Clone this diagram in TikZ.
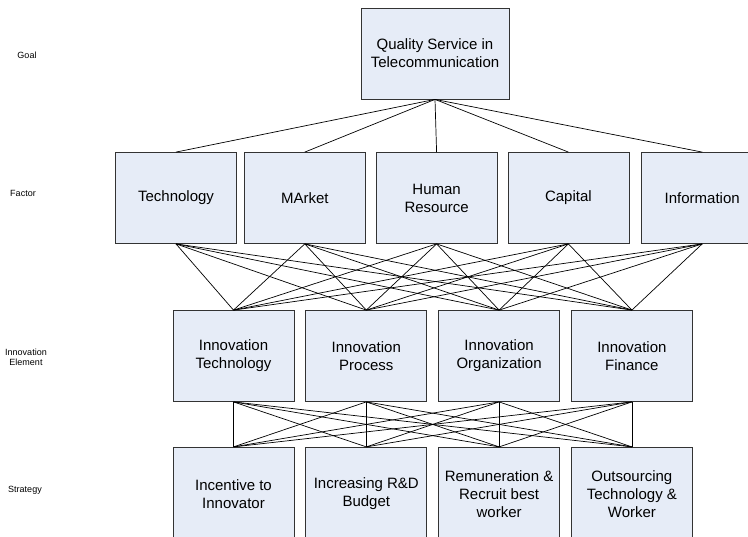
\documentclass[tikz,border=0pt]{standalone}
\usepackage[dvipsnames]{xcolor}
\usepackage{fontspec}
\setmainfont{Liberation Sans}
\usepackage{tikz}
\usetikzlibrary{positioning}
\definecolor{boxfill}{HTML}{E6ECF7}

\begin{document}
\begin{tikzpicture}[x=1pt, y=1pt]
\tikzstyle{level}=[draw=black!80, fill=boxfill, line width=0.8pt, shape=rectangle, minimum height=91pt, minimum width=121pt, align=center, font=\fontsize{15}{18}\selectfont]
\tikzstyle{tier}=[align=center, font=\fontsize{9}{10.5}\selectfont]
\tikzstyle{link}=[line width=0.7pt]
\useasboundingbox (0,0) rectangle (748,-537);
\clip (0,0) rectangle (748,-537);

% goal
\node[level, minimum width=148pt] (0) at (435,-53.5) {Quality Service in\\Telecommunication};
% factors
\node[level] (1) at (176,-198) {Technology};
\node[level] (2) [right=7pt of 1] {MArket};
\node[level] (3) [right=10pt of 2] {Human\\Resource};
\node[level] (4) [right=10pt of 3] {Capital};
\node[level] (5) [right=12pt of 4] {Information};
% innovation elements
\node[level] (6) at (233.5,-356) {Innovation\\Technology};
\node[level] (7) [right=11pt of 6] {Innovation\\Process};
\node[level] (8) [right=11pt of 7] {Innovation\\Organization};
\node[level] (9) [right=11pt of 8] {Innovation\\Finance};
% strategies
\node[level, minimum height=93pt] (10) [below=45pt of 6] {Incentive to\\Innovator};
\node[level, minimum height=93pt] (11) [below=45pt of 7] {Increasing R\&D\\Budget};
\node[level, minimum height=93pt] (12) [below=45pt of 8] {Remuneration \&\\Recruit best\\worker};
\node[level, minimum height=93pt] (13) [below=45pt of 9] {Outsourcing\\Technology \&\\Worker};

% tier names
\node[tier] (14) at (27,-55) {Goal};
\node[tier] (15) at (23,-193) {Factor};
\node[tier] (16) at (26,-357.5) {Innovation\\Element};
\node[tier] (17) at (25,-490) {Strategy};

\foreach \f in {1,...,5}
  \draw[link] (0.south) to (\f.north);
\foreach \f in {1,...,5}
  \foreach \e in {6,...,9}
    \draw[link] (\f.south) to (\e.north);
\foreach \e in {6,...,9}
  \foreach \s in {10,...,13}
    \draw[link] (\e.south) to (\s.north);

\end{tikzpicture}
\end{document}
